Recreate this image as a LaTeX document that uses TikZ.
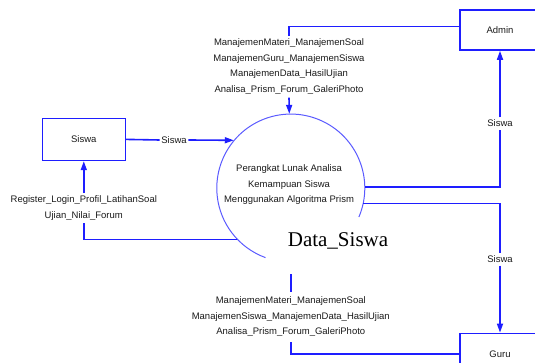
\documentclass[tikz,border=0pt]{standalone}
\usepackage{fontspec}
\setmainfont{Liberation Sans}
\newfontfamily\bigserif{Liberation Serif}
\usetikzlibrary{arrows.meta}
\definecolor{lineblue}{RGB}{30,30,255}
\definecolor{circblue}{RGB}{90,90,255}
\definecolor{txt}{RGB}{25,25,25}
\begin{document}
\begin{tikzpicture}[x=1pt,y=-1pt,
  every node/.style={font=\fontsize{9.5}{15.5}\selectfont, text=txt},
  entity/.style={draw=lineblue, line width=1.6pt, minimum width=80pt, minimum height=40pt, inner sep=0pt},
  flowlbl/.style={align=center, inner sep=2.5pt},
  flow/.style={draw=lineblue, line width=1.6pt},
  flowarrow/.style={flow, -{Triangle[length=9pt,width=6pt]}}]
\useasboundingbox (0,0) rectangle (535,363);
% entities
\node[entity, minimum width=83pt, minimum height=42pt] (siswa) at (83.8,139.4) {Siswa};
\node[entity] (admin) at (500,30) {Admin};
\node[entity, minimum height=41.2pt] (guru) at (500,354) {Guru};
% process
\node[circle, minimum size=148pt, inner sep=0pt] (proc) at (290.6,188) {};
\draw[circblue, line width=1pt] (proc.-23) arc[start angle=-23, end angle=250, radius=74pt];
\node[align=center] (ptext) at (289,184.6) {Perangkat Lunak Analisa\\Kemampuan Siswa\\Menggunakan Algoritma Prism};
\node[font=\bigserif\fontsize{21}{24}\selectfont, text=black] (ds) at (338,241) {Data\_Siswa};
% labels
\node[flowlbl, inner sep=3pt] (lt) at (289,66.7) {ManajemenMateri\_ManajemenSoal\\ManajemenGuru\_ManajemenSiswa\\ManajemenData\_HasilUjian\\Analisa\_Prism\_Forum\_GaleriPhoto};
\node[flowlbl, inner sep=1.5pt] (sl) at (174,140) {Siswa};
\node[flowlbl] (rl) at (83.8,208) {Register\_Login\_Profil\_LatihanSoal\\Ujian\_Nilai\_Forum};
\node[flowlbl] (sa) at (500,123.5) {Siswa};
\node[flowlbl] (sg) at (500,259.4) {Siswa};
\node[flowlbl, inner sep=5pt] (lb) at (290.8,317) {ManajemenMateri\_ManajemenSoal\\ManajemenSiswa\_ManajemenData\_HasilUjian\\Analisa\_Prism\_Forum\_GaleriPhoto};
\coordinate (bt) at (290.8,274);
% connectors
\draw[flow] ([yshift=3.4pt]admin.west) -| (lt.north);
\draw[flowarrow] (lt.south) -- (proc.91);
\draw[flow] (siswa.east) -- (sl.west);
\draw[flowarrow] (sl.east) -- (proc.140);
\draw[flow] (proc.224) -| (rl.south);
\draw[flowarrow] (rl.north) -- (siswa.south);
\draw[flow] (proc.1) -| (sa.south);
\draw[flowarrow] (sa.north) -- (admin.south);
\draw[flow] (proc.-12) -| (sg.north);
\draw[flowarrow] (sg.south) -- (guru.north);
\draw[flow] (bt) -- (lb.north);
\draw[flow] (lb.south) |- (guru.west);
\end{tikzpicture}
\end{document}
